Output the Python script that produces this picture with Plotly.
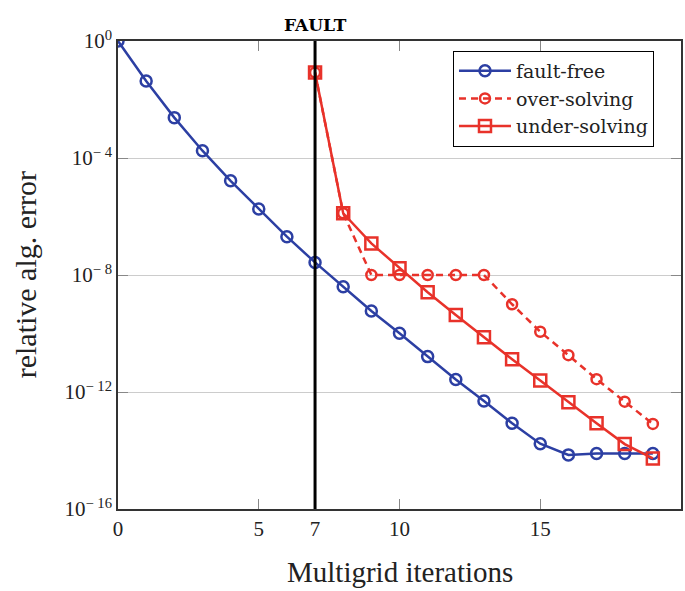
import plotly.graph_objects as go

iters = list(range(20))
fault_free_exp = [0, -1.37, -2.62, -3.75, -4.78, -5.74, -6.69, -7.57, -8.40, -9.23,
                  -9.99, -10.79, -11.57, -12.31, -13.07, -13.77, -14.15, -14.10, -14.10, -14.10]
over_iters = list(range(7, 20))
over_exp = [-1.08, -5.89, -8.0, -8.0, -8.0, -8.0, -8.0, -9.0, -9.94, -10.74, -11.56, -12.33, -13.09]
under_iters = list(range(7, 20))
under_exp = [-1.08, -5.89, -6.92, -7.77, -8.59, -9.37, -10.13, -10.88, -11.61, -12.35, -13.07, -13.78, -14.27]

series_names = ["fault-free", "over-solving", "under-solving"]
x_tickvals = [0, 5, 7, 10, 15]
y_tick_exps = [0, -4, -8, -12, -16]
fault_iter = 7

BLUE = "#2c3fa3"
RED = "#e8322a"
FONT = "Liberation Serif"
BFONT = "DejaVu Serif"
LFONT = "DejaVu Serif"

fault_free = [10 ** e for e in fault_free_exp]
over = [10 ** e for e in over_exp]
under = [10 ** e for e in under_exp]

fig = go.Figure()
fig.add_trace(go.Scatter(x=iters, y=fault_free, mode="lines+markers", name=series_names[0],
                         line=dict(color=BLUE, width=2.5),
                         marker=dict(symbol="circle-open", size=11, color=BLUE, line=dict(width=2.5))))
fig.add_trace(go.Scatter(x=over_iters, y=over, mode="lines+markers", name=series_names[1],
                         line=dict(color=RED, width=2.5, dash="7px,5px"),
                         marker=dict(symbol="circle-open", size=10, color=RED, line=dict(width=2.5))))
fig.add_trace(go.Scatter(x=under_iters, y=under, mode="lines+markers", name=series_names[2],
                         line=dict(color=RED, width=2.5),
                         marker=dict(symbol="square-open", size=12, color=RED, line=dict(width=2.5))))

fig.add_shape(type="line", x0=fault_iter, x1=fault_iter, y0=0, y1=1, xref="x", yref="paper",
              line=dict(color="black", width=3))
fig.add_annotation(x=fault_iter, y=1, xref="x", yref="paper", yshift=28, text="<b>FAULT</b>",
                   showarrow=False, font=dict(family=BFONT, size=17, color="black"))

# axis titles as annotations for exact placement
fig.add_annotation(x=-93 / 565, y=0.5, xref="paper", yref="paper", text="relative alg. error",
                   textangle=-90, showarrow=False, xanchor="center", yanchor="middle",
                   font=dict(family=FONT, size=30, color="#222"))
fig.add_annotation(x=0.5, y=-63 / 468, xref="paper", yref="paper", text="Multigrid iterations",
                   showarrow=False, xanchor="center", yanchor="middle",
                   font=dict(family=FONT, size=29, color="#222"))

ytext = []
for e in y_tick_exps:
    if e == 0:
        ytext.append("10<sup>0</sup>")
    else:
        ytext.append("10<sup>\u2212 %d</sup>" % abs(e))

fig.update_layout(
    width=685, height=591,
    margin=dict(l=118, r=2, t=41, b=82),
    paper_bgcolor="white", plot_bgcolor="white",
    font=dict(family=FONT, size=21, color="#222"),
    legend=dict(x=0.595, y=0.979, xanchor="left", yanchor="top",
                bordercolor="black", borderwidth=1, bgcolor="white",
                font=dict(family=LFONT, size=19, color="#222"),
                tracegroupgap=0, itemwidth=52),
    xaxis=dict(range=[0, 20], tickvals=x_tickvals, ticktext=[str(v) for v in x_tickvals],
               ticks="inside", ticklen=10, tickcolor="#888", tickwidth=1,
               showline=True, linecolor="#333", linewidth=1.5, mirror="ticks",
               showgrid=False, zeroline=False),
    yaxis=dict(type="log", range=[-16, 0], tickvals=[10 ** e for e in y_tick_exps], ticktext=ytext,
               ticks="inside", ticklen=10, tickcolor="#888", tickwidth=1,
               showline=True, linecolor="#333", linewidth=1.5, mirror="ticks",
               showgrid=True, gridcolor="#cccccc", gridwidth=1, zeroline=False),
    showlegend=True,
)

fig.write_html("out.html", config={"displayModeBar": False},
               post_script="document.body.style.margin='0';")
